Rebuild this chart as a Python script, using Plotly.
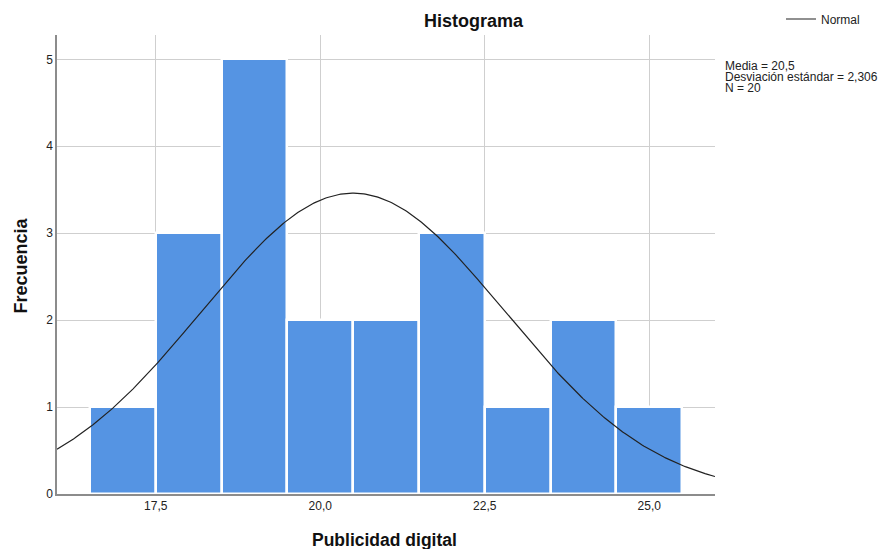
import numpy as np
import plotly.graph_objects as go

# Data
bin_centers = [17, 18, 19, 20, 21, 22, 23, 24, 25]
frequencies = [1, 3, 5, 2, 2, 3, 1, 2, 1]
mean_val = 20.5
sd_val = 2.306
n_val = 20
bin_width = 1.0
x_ticks = [17.5, 20.0, 22.5, 25.0]
y_ticks = [0, 1, 2, 3, 4, 5]
stats_lines = ["Media = 20,5", "Desviación estándar = 2,306", "N = 20"]

xs = np.linspace(16, 26, 400)
ys = n_val * bin_width / (sd_val * np.sqrt(2 * np.pi)) * np.exp(-0.5 * ((xs - mean_val) / sd_val) ** 2)

fig = go.Figure()
fig.add_trace(go.Bar(
    x=bin_centers, y=frequencies, width=bin_width,
    marker=dict(color="#5594E3", line=dict(color="white", width=2.5)),
    showlegend=False, hoverinfo="x+y",
))
fig.add_trace(go.Scatter(
    x=xs, y=ys, mode="lines", name="Normal",
    line=dict(color="#222222", width=1.2),
))

font_family = "Liberation Sans, Arial, sans-serif"
W, H = 882, 549
L, R, T, B = 57, 715, 35, 494
PW, PH = R - L, B - T
fig.update_layout(
    width=W, height=H,
    margin=dict(l=L, r=W - R, t=T, b=H - B, autoexpand=False),
    paper_bgcolor="white", plot_bgcolor="white",
    separators=",.",
    font=dict(family=font_family, size=12, color="#222222"),
    title=dict(text="<b>Histograma</b>", xref="container", yref="container",
               x=473.5 / W, xanchor="center", y=1 - 21 / H, yanchor="middle",
               font=dict(size=18, color="#111111")),
    bargap=0,
    xaxis=dict(
        range=[16, 26], tickvals=x_ticks, tickformat=".1f",
        showgrid=True, gridcolor="#CFCFCF", gridwidth=1,
        showline=True, linecolor="#8C8C8C", linewidth=1.5,
        ticks="", zeroline=False, automargin=False,
    ),
    yaxis=dict(
        range=[0, 5.28], tickvals=y_ticks,
        showgrid=True, gridcolor="#CFCFCF", gridwidth=1,
        showline=True, linecolor="#8C8C8C", linewidth=1.5,
        ticks="", zeroline=False, automargin=False,
    ),
    legend=dict(xref="container", yref="container", x=781 / W, y=1 - 19 / H,
                xanchor="left", yanchor="middle", font=dict(size=12),
                bgcolor="rgba(0,0,0,0)", itemwidth=30),
)

for i, line in enumerate(stats_lines):
    fig.add_annotation(
        xref="paper", yref="paper", x=(723 - L) / PW, y=(B - (66.5 + 10.5 * i)) / PH,
        xanchor="left", yanchor="middle", text=line,
        showarrow=False, align="left", font=dict(size=12, color="#222222"),
    )
fig.add_annotation(
    xref="paper", yref="paper", x=(384.5 - L) / PW, y=-(539.5 - B) / PH,
    xanchor="center", yanchor="middle",
    text="<b>Publicidad digital</b>", showarrow=False, font=dict(size=17.5, color="#111111"),
)
fig.add_annotation(
    xref="paper", yref="paper", x=-(L - 20.5) / PW, y=(B - 266) / PH,
    xanchor="center", yanchor="middle", textangle=-90,
    text="<b>Frecuencia</b>", showarrow=False, font=dict(size=18, color="#111111"),
)

fig.write_html(
    "out.html",
    config={"displayModeBar": False},
    post_script="document.body.style.margin='0px';document.body.style.overflow='hidden';",
)
